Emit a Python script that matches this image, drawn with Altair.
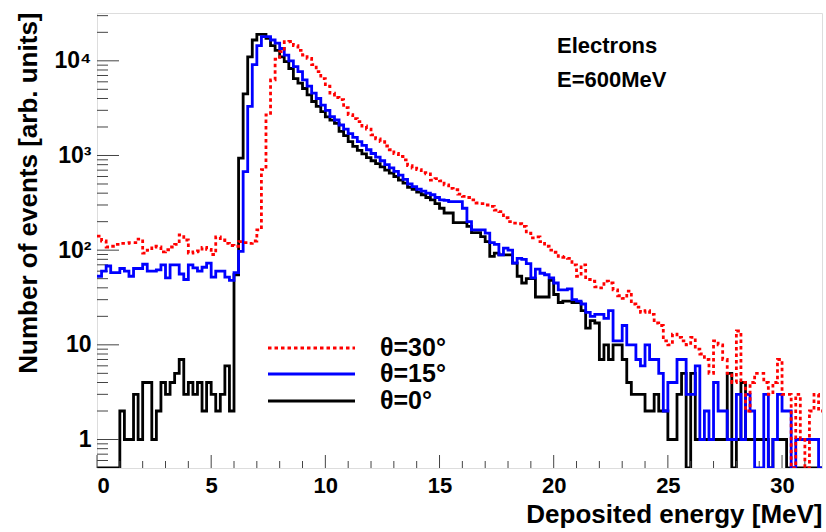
import altair as alt
import pandas as pd

# Energy-deposition histograms, 0.2 MeV bins starting at 0 MeV
BIN_WIDTH = 0.2

counts_0 = [
    0, 0, 0, 0, 0, 2, 1, 1, 3, 1,
    4, 4, 1, 2, 4, 3, 4, 5, 7, 3,
    4, 3, 4, 2, 4, 3, 2, 3, 6, 2,
    55, 940, 4470, 11000, 16600, 19000, 19000, 17300, 14500, 12900,
    11000, 9800, 8300, 6500, 5800, 5100, 4370, 3720, 3300, 2900,
    2560, 2360, 2180, 1800, 1620, 1400, 1250, 1130, 1040, 950,
    880, 820, 760, 700, 650, 600, 550, 510, 460, 440,
    410, 385, 360, 340, 310, 277, 247, 247, 195, 195,
    195, 178, 153, 153, 139, 123, 86, 93, 89, 89,
    89, 73, 53, 45, 50, 50, 32, 32, 32, 48,
    34, 28, 29, 29, 28, 28, 23, 15, 18, 17,
    7, 10, 7, 10, 10, 7, 4, 3, 3, 3,
    2, 2, 3, 2, 2, 1, 1, 3, 5, 0,
    5, 1, 1, 1, 1, 1, 1, 1, 5, 0,
    1, 4, 1, 1, 1, 1, 1, 0, 1, 1,
    1, 0, 0, 0, 0, 0, 0, 0, 0,
]

counts_15 = [
    53, 60, 68, 58, 58, 64, 60, 53, 64, 64,
    71, 60, 60, 62, 70, 51, 70, 70, 56, 49,
    70, 65, 60, 66, 73, 52, 60, 60, 52, 48,
    58, 97, 675, 3300, 9100, 14500, 18000, 18000, 16600, 15400,
    13500, 11500, 10000, 8700, 7700, 6300, 5400, 4550, 4000, 3400,
    3000, 2570, 2370, 2100, 1900, 1700, 1550, 1400, 1280, 1150,
    1050, 960, 880, 800, 740, 680, 620, 560, 500, 470,
    440, 420, 400, 385, 360, 340, 335, 325, 325, 325,
    277, 200, 164, 164, 164, 151, 120, 115, 89, 105,
    100, 73, 82, 80, 72, 51, 63, 57, 55, 51,
    45, 38, 38, 39, 30, 29, 27, 22, 20, 21,
    21, 19, 23, 11, 11, 16, 10, 10, 7, 6,
    10, 7, 7, 5, 2, 4, 4, 7, 7, 3,
    3, 6, 1, 2, 1, 4, 2, 2, 1, 1,
    3, 1, 3, 2, 0, 0, 3, 0, 1, 3,
    2, 2, 0, 1, 1, 1, 1, 1, 0,
]

counts_30 = [
    141, 125, 108, 110, 115, 118, 118, 120, 120, 131,
    93, 100, 110, 108, 96, 101, 108, 115, 145, 128,
    93, 96, 98, 107, 102, 90, 138, 128, 118, 112,
    110, 123, 120, 118, 125, 164, 710, 2690, 6300, 10400,
    12500, 15900, 16000, 14500, 12900, 11500, 10600, 9100, 7700, 6500,
    5400, 4560, 4100, 3900, 3200, 2700, 2450, 2280, 2050, 1900,
    1650, 1500, 1400, 1260, 1150, 1050, 980, 900, 780, 735,
    710, 660, 640, 550, 570, 540, 490, 450, 435, 390,
    370, 360, 340, 315, 310, 300, 290, 265, 255, 220,
    200, 193, 190, 178, 151, 135, 138, 123, 110, 100,
    95, 86, 84, 82, 70, 53, 70, 49, 47, 41,
    40, 47, 45, 38, 33, 31, 37, 27, 25, 22,
    23, 21, 17, 16, 11, 10, 13, 12, 11, 10,
    12, 9, 8, 7, 5, 11, 10, 7, 5, 4,
    14, 4, 2, 4, 5, 5, 4, 3, 4, 7,
    3, 3, 0, 3, 1, 0, 2, 3, 2,
]

series_labels = ["θ=30°", "θ=15°", "θ=0°"]
series_colors = ["#ff0000", "#0000ff", "#000000"]

x_major = [0, 5, 10, 15, 20, 25, 30]
x_minor = [v for v in range(1, 32) if v % 5 != 0]
y_major = [1, 10, 100, 1000, 10000]
y_minor = [0.6, 0.7, 0.8, 0.9] + [m * 10 ** k for k in range(0, 4) for m in range(2, 10)] + [20000, 30000]

W, H = 725, 455
FONT = "Liberation Sans"
LINE_W = 2.8


def hist_frame(counts):
    edges = [round(BIN_WIDTH * i, 3) for i in range(len(counts) + 1)]
    return pd.DataFrame({"E": edges, "n": list(counts) + [counts[-1]]})


x_scale = alt.Scale(domain=[0, 31.75], nice=False, zero=False)
y_scale = alt.Scale(type="log", domain=[0.5, 32000], nice=False)

x_axis = alt.Axis(
    values=x_major, ticks=False, domain=False, grid=False,
    labelFont=FONT, labelFontSize=22, labelFontWeight="bold", labelColor="black",
    labelPadding=7,
    title="Deposited energy [MeV]", titleFont=FONT, titleFontSize=26,
    titleFontWeight="bold", titleColor="black",
    titleX=W, titleY=54, titleAlign="right", titleBaseline="alphabetic",
)
y_axis = alt.Axis(
    values=y_major, ticks=False, domain=False, grid=False,
    labelExpr="datum.value == 10000 ? '10⁴' : datum.value == 1000 ? '10³' : datum.value == 100 ? '10²' : datum.value == 10 ? '10' : '1'",
    labelFont=FONT, labelFontSize=23, labelFontWeight="bold", labelColor="black",
    labelPadding=6, labelBaseline="middle",
    title="Number of events [arb. units]", titleFont=FONT, titleFontSize=26,
    titleFontWeight="bold", titleColor="black",
    titleX=-69, titleY=-1, titleAngle=270, titleAlign="right", titleBaseline="middle",
)

X_ENC = dict(scale=x_scale, axis=x_axis)
Y_ENC = dict(scale=y_scale, axis=y_axis)


def step_layer(counts, color, dash):
    mark = dict(interpolate="step-after", color=color, strokeWidth=LINE_W, clip=True)
    if dash:
        mark["strokeDash"] = dash
    return (
        alt.Chart(hist_frame(counts))
        .transform_calculate(ny="datum.n > 0 ? datum.n : 0.5")
        .mark_line(**mark)
        .encode(x=alt.X("E:Q", **X_ENC), y=alt.Y("ny:Q", **Y_ENC))
    )


# inward ticks on the bottom and left edges of the frame
tick_color = "#444444"
x_major_ticks = alt.Chart(pd.DataFrame({"E": x_major})).mark_rule(color=tick_color, strokeWidth=1).encode(
    x=alt.X("E:Q", **X_ENC), y=alt.value(H), y2=alt.value(H - 13))
x_minor_ticks = alt.Chart(pd.DataFrame({"E": x_minor})).mark_rule(color=tick_color, strokeWidth=1).encode(
    x=alt.X("E:Q", **X_ENC), y=alt.value(H), y2=alt.value(H - 7))
y_major_ticks = alt.Chart(pd.DataFrame({"ny": y_major})).mark_rule(color=tick_color, strokeWidth=1).encode(
    y=alt.Y("ny:Q", **Y_ENC), x=alt.value(0), x2=alt.value(22))
y_minor_ticks = alt.Chart(pd.DataFrame({"ny": y_minor})).mark_rule(color=tick_color, strokeWidth=1).encode(
    y=alt.Y("ny:Q", **Y_ENC), x=alt.value(0), x2=alt.value(11))

layers = [
    step_layer(counts_0, series_colors[2], None),
    x_major_ticks, x_minor_ticks, y_major_ticks, y_minor_ticks,
    step_layer(counts_15, series_colors[1], None),
    step_layer(counts_30, series_colors[0], [3.5, 3]),
]

# legend: line sample plus label for each angle
legend_rows = [335, 361, 388]
for label, color, row in zip(series_labels, series_colors, legend_rows):
    sample = dict(color=color, strokeWidth=LINE_W)
    if color == "#ff0000":
        sample["strokeDash"] = [3.5, 3]
    src = pd.DataFrame({"label": [label]})
    layers.append(alt.Chart(src).mark_rule(**sample).encode(
        x=alt.value(171), x2=alt.value(258), y=alt.value(row)))
    layers.append(alt.Chart(src).mark_text(
        align="left", baseline="middle", font=FONT, fontSize=25, fontWeight="bold", color="black"
    ).encode(x=alt.value(283), y=alt.value(row), text="label:N"))

for txt, row in [("Electrons", 33), ("E=600MeV", 67)]:
    layers.append(alt.Chart(pd.DataFrame({"t": [txt]})).mark_text(
        align="left", baseline="middle", font=FONT, fontSize=22, fontWeight="bold", color="black"
    ).encode(x=alt.value(460), y=alt.value(row), text="t:N"))

chart = (
    alt.layer(*layers)
    .properties(width=W, height=H, autosize="none",
                padding={"left": 97, "top": 13, "right": 4, "bottom": 64})
    .configure_view(stroke="#555555", strokeWidth=1)
    .configure(background="white")
)

chart.save("out.html", embed_options={"renderer": "svg", "actions": False})
